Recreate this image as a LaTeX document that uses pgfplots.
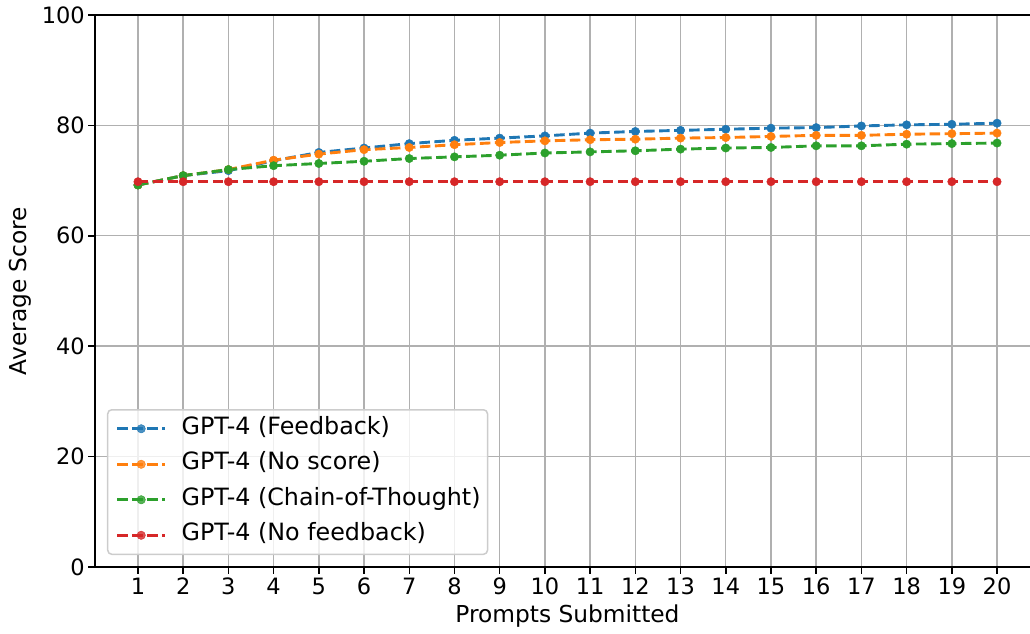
\documentclass[border=0pt]{standalone}
\usepackage{fontspec}
\setmainfont{DejaVu Sans}
\usepackage{pgfplots}
\pgfplotsset{compat=1.18}

\definecolor{tabblue}{HTML}{1F77B4}
\definecolor{taborange}{HTML}{FF7F0E}
\definecolor{tabgreen}{HTML}{2CA02C}
\definecolor{tabred}{HTML}{D62728}

\begin{document}
\begin{tikzpicture}[x=1pt,y=1pt]
  \path[use as bounding box] (-95,-67) rectangle (935,567);
  \begin{axis}[
      at={(0,0)}, anchor=south west,
      scale only axis,
      width=945pt, height=552pt,
      xmin=0.05, xmax=20.95,
      ymin=0, ymax=100,
      xtick={1,...,20},
      ytick={0,20,40,60,80,100},
      grid=major,
      major grid style={color=black!31, line width=1.4pt},
      axis line style={line width=1.5pt},
      tick style={line width=1.5pt, black},
      tick align=outside,
      major tick length=6.7pt,
      tick pos=left,
      font=\fontsize{22.5}{27}\selectfont,
      /pgf/number format/assume math mode=true,
      xticklabel style={yshift=-1pt},
      xlabel={Prompts Submitted},
      ylabel={Average Score},
      xlabel style={at={(axis description cs:0.5,0)}, anchor=north, yshift=-34pt,
        font=\fontsize{23.3}{28}\selectfont},
      ylabel style={at={(axis description cs:-0.0794,0.5)}, anchor=center,
        font=\fontsize{23.3}{28}\selectfont},
      every axis plot/.append style={line width=2.9pt, dash pattern=on 10.5pt off 4.5pt, mark=*, mark size=4.2pt, mark options={solid, line width=0.4pt}},
      legend cell align=left,
      legend style={at={(axis description cs:0.0127,0.0217)}, anchor=south west,
        draw=black!20, line width=1.5pt, rounded corners=4pt, fill=white, fill opacity=0.8, text opacity=1,
        inner xsep=5pt, inner ysep=3pt, row sep=3.5pt,
        nodes={text height=19.5pt, text depth=8.5pt},
        font=\fontsize{23.8}{28}\selectfont},
      legend image code/.code={
        \draw[#1, mark repeat=2, mark phase=2] plot coordinates {(3pt,0pt) (27pt,0pt) (51pt,0pt)};
        \path (0pt,0pt) (64pt,0pt);},
  ]
  \addplot[color=tabblue] coordinates {
      (1,69.2) (2,70.9) (3,71.8) (4,73.6) (5,75.1) (6,75.9) (7,76.7) (8,77.3) (9,77.7) (10,78.1)
      (11,78.6) (12,78.9) (13,79.1) (14,79.3) (15,79.5) (16,79.6) (17,79.9) (18,80.1) (19,80.2) (20,80.4)
  };
  \addlegendentry{GPT-4 (Feedback)}
  \addplot[color=taborange] coordinates {
      (1,69.2) (2,70.9) (3,72.0) (4,73.7) (5,74.8) (6,75.6) (7,76.0) (8,76.5) (9,76.9) (10,77.2)
      (11,77.4) (12,77.5) (13,77.7) (14,77.8) (15,78.0) (16,78.2) (17,78.2) (18,78.4) (19,78.5) (20,78.6)
  };
  \addlegendentry{GPT-4 (No score)}
  \addplot[color=tabgreen] coordinates {
      (1,69.2) (2,70.9) (3,72.0) (4,72.7) (5,73.1) (6,73.5) (7,74.0) (8,74.3) (9,74.6) (10,75.0)
      (11,75.2) (12,75.4) (13,75.7) (14,75.9) (15,76.0) (16,76.3) (17,76.3) (18,76.6) (19,76.7) (20,76.8)
  };
  \addlegendentry{GPT-4 (Chain-of-Thought)}
  \addplot[color=tabred] coordinates {
      (1,69.8) (2,69.8) (3,69.8) (4,69.8) (5,69.8) (6,69.8) (7,69.8) (8,69.8) (9,69.8) (10,69.8)
      (11,69.8) (12,69.8) (13,69.8) (14,69.8) (15,69.8) (16,69.8) (17,69.8) (18,69.8) (19,69.8) (20,69.8)
  };
  \addlegendentry{GPT-4 (No feedback)}
  \end{axis}
\end{tikzpicture}
\end{document}
